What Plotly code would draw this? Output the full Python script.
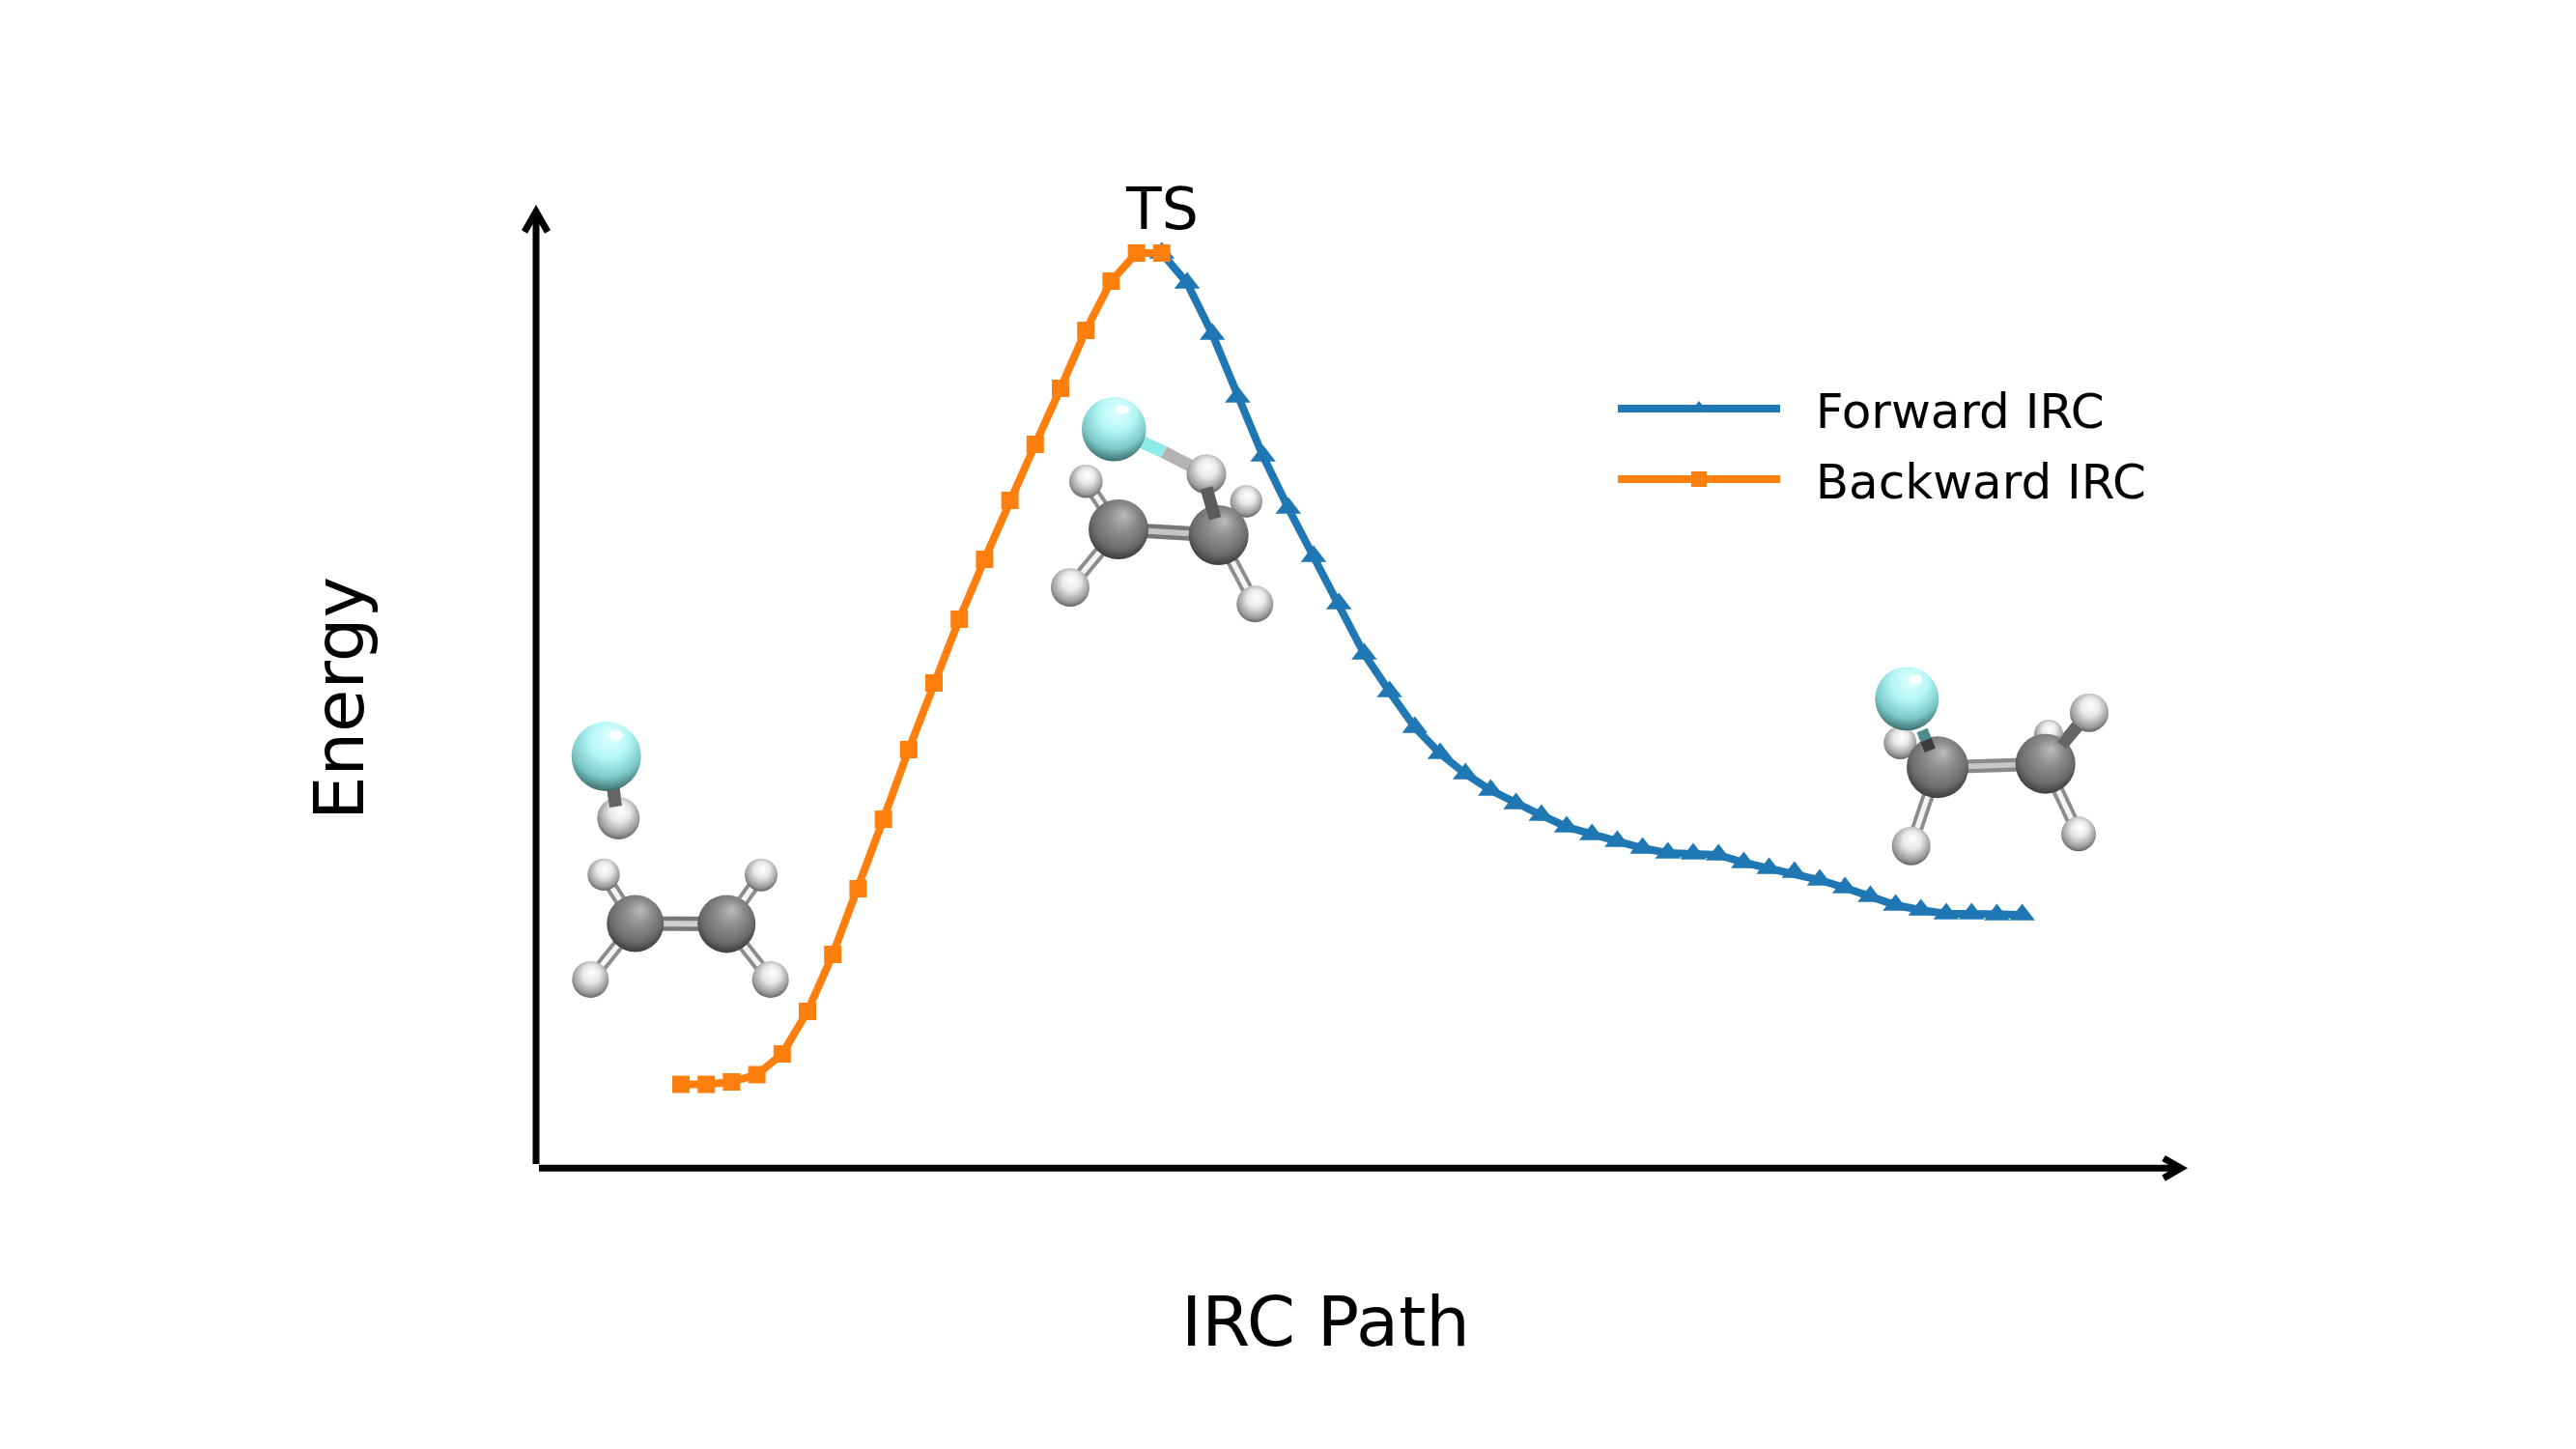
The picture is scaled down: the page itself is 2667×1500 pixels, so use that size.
import base64
import plotly.graph_objects as go

# ---- data (arbitrary energy units) ----
backward_step = list(range(0, 20))
backward_energy = [8.65, 8.65, 8.9, 9.65, 11.8, 16.2, 22.1, 28.9, 36.1, 43.3, 50.2, 56.8,
                   63.0, 69.1, 74.9, 80.7, 86.7, 91.8, 94.7, 94.7]
forward_step = list(range(19, 54))
forward_energy = [94.7, 91.6, 86.3, 79.8, 73.7, 68.3, 63.3, 58.4, 53.2, 49.3, 45.6, 42.9,
                  40.8, 39.1, 37.7, 36.5, 35.3, 34.5, 33.8, 33.1, 32.6, 32.5, 32.4, 31.6,
                  31.0, 30.6, 29.8, 29.0, 28.1, 27.2, 26.7, 26.3, 26.3, 26.2, 26.2]
series_names = ["Forward IRC", "Backward IRC"]
x_title = "IRC Path"
y_title = "Energy"
ts_label = "TS"

# ---- layout constants (pixels of the 2667x1500 canvas) ----
W, H = 2667, 1500
L, R, T, B = 555, 2265, 211, 1209
PW, PH = R - L, B - T
FONT = "DejaVu Sans"
BLUE, ORANGE = "#1f77b4", "#ff7f0e"


def px(x):
    return (x - L) / PW


def py(y):
    return (B - y) / PH


# ---- molecule pictures (the reference has them as rendered images) ----
DEFS = """
<defs>
<radialGradient id="C" cx=".5" cy=".42" r=".6" fx=".6" fy=".25">
<stop offset="0" stop-color="#bcbcbc"/><stop offset=".35" stop-color="#909090"/>
<stop offset=".75" stop-color="#6c6c6c"/><stop offset="1" stop-color="#363636"/></radialGradient>
<radialGradient id="H" cx=".5" cy=".42" r=".6" fx=".55" fy=".3">
<stop offset="0" stop-color="#fff"/><stop offset=".4" stop-color="#e8e8e8"/>
<stop offset=".8" stop-color="#9c9c9c"/><stop offset="1" stop-color="#5a5a5a"/></radialGradient>
<radialGradient id="F" cx=".5" cy=".32" r=".72" fx=".58" fy=".2">
<stop offset="0" stop-color="#e4ffff"/><stop offset=".4" stop-color="#b4f6f6"/>
<stop offset=".72" stop-color="#7cc8c8"/><stop offset=".92" stop-color="#467c7c"/>
<stop offset="1" stop-color="#2a4a4a"/></radialGradient>
</defs>"""


def line(a, b, color, width):
    return (f'<line x1="{a[0]}" y1="{a[1]}" x2="{b[0]}" y2="{b[1]}" '
            f'stroke="{color}" stroke-width="{width}"/>')


def stripe(a, b, w=13, outer="#8c8c8c", inner="#f4f4f4"):
    return line(a, b, outer, w) + line(a, b, inner, w * 0.4)


def atom(a):
    kind, x, y, r = a
    s = f'<circle cx="{x}" cy="{y}" r="{r}" fill="url(#{kind})"/>'
    if kind == "F":
        s += f'<ellipse cx="{x + r * .28}" cy="{y - r * .6}" rx="{r * .2}" ry="{r * .14}" fill="#fff"/>'
    return s


def molecule(box, back, atoms, front=""):
    x0, y0, x1, y1 = box
    svg = (f'<svg xmlns="http://www.w3.org/2000/svg" width="{x1 - x0}" height="{y1 - y0}" '
           f'viewBox="{x0} {y0} {x1 - x0} {y1 - y0}">{DEFS}{back}'
           + "".join(atom(a) for a in atoms) + front + "</svg>")
    src = "data:image/svg+xml;base64," + base64.b64encode(svg.encode()).decode()
    return dict(source=src, xref="paper", yref="paper", x=px(x0), y=py(y0),
                sizex=(x1 - x0) / PW, sizey=(y1 - y0) / PH, sizing="stretch",
                xanchor="left", yanchor="top", layer="below")


C1, C2 = (657.7, 956), (752.3, 956.4)
mol1 = molecule(
    (570, 730, 830, 1050),
    line((635, 815), (638, 840), "#666", 13)
    + stripe(C1, (625, 905.4)) + stripe(C2, (788, 905.7))
    + stripe(C1, (611.3, 1014)) + stripe(C2, (797.7, 1014))
    + stripe(C1, C2, 15, "#777", "#cfcfcf"),
    [("H", 640.3, 847, 22), ("F", 627.7, 782.9, 36),
     ("H", 625, 905.4, 16.7), ("H", 788, 905.7, 17),
     ("H", 611.3, 1014, 19), ("H", 797.7, 1014, 19),
     ("C", 657.7, 956, 29.5), ("C", 752.3, 956.4, 30)],
    line((635, 818), (637.5, 835), "#666", 13),
)

C3, C4 = (1158, 548), (1261.7, 554)
mol2 = molecule(
    (1070, 400, 1340, 650),
    stripe(C3, (1124.3, 498.3)) + stripe(C4, (1290.3, 519))
    + stripe(C3, (1108, 608)) + stripe(C4, (1299.3, 625.3))
    + stripe(C3, C4, 15, "#777", "#c4c4c4")
    + line((1153.3, 444.3), (1205, 468), "#8feaea", 13)
    + line((1205, 468), (1249, 490.7), "#b4b4b4", 13),
    [("F", 1153.3, 444.3, 33.3), ("H", 1124.3, 498.3, 17.3),
     ("H", 1290.3, 519, 16.7), ("H", 1108, 608, 20), ("H", 1299.3, 625.3, 19),
     ("C", 1158, 548, 31), ("C", 1261.7, 554, 31), ("H", 1249, 490.7, 20.5)],
    line((1249, 505), (1258, 536.7), "#5c5c5c", 13),
)

C5, C6 = (2006, 794.3), (2117.7, 790.7)
mol3 = molecule(
    (1930, 680, 2190, 900),
    stripe(C5, (1967.3, 769)) + stripe(C5, (1978.7, 875.7)) + stripe(C6, (2152, 863.3))
    + line(C6, (2163, 737.7), "#666", 13)
    + stripe(C5, C6, 14, "#8a8a8a", "#c8c8c8"),
    [("H", 1967.3, 769, 17), ("H", 2121, 760, 15), ("H", 2163, 737.7, 20),
     ("H", 1978.7, 875.7, 20), ("H", 2152, 863.3, 18),
     ("F", 1974.3, 723.3, 33), ("C", 2006, 794.3, 32), ("C", 2117.7, 790.7, 31)],
    line((1990, 756), (1994, 766), "#4c8c8c", 12) + line((1994, 766), (1998.3, 776.7), "#3c3c3c", 12)
    + line((2135, 771.7), (2150, 751.7), "#666", 12),
)


def arrow_path(points):
    return "M" + " L".join(f"{px(x):.5f},{py(y):.5f}" for x, y in points)


shape_style = dict(type="path", xref="paper", yref="paper",
                   line=dict(color="black", width=7))
shapes = [
    dict(path=arrow_path([(555, 1205), (555, 220)]), **shape_style),
    dict(path=arrow_path([(543, 240), (555, 219), (567, 240)]), **shape_style),
    dict(path=arrow_path([(558, 1209.3), (2258, 1209.3)]), **shape_style),
    dict(path=arrow_path([(2240, 1199), (2258, 1209.3), (2240, 1219.6)]), **shape_style),
]

fig = go.Figure()
fig.add_trace(go.Scatter(
    x=forward_step, y=forward_energy, mode="lines+markers",
    name="\u00a0\u00a0" + series_names[0], legendgroup="forward",
    line=dict(color=BLUE, width=8),
    marker=dict(symbol="triangle-up", size=23, color=BLUE),
))
fig.add_trace(go.Scatter(
    x=backward_step, y=backward_energy, mode="lines+markers",
    name="\u00a0\u00a0" + series_names[1], legendgroup="backward",
    line=dict(color=ORANGE, width=8),
    marker=dict(symbol="square", size=18, color=ORANGE),
))

STEP_PX = 26.2
text_font = dict(size=72, family=FONT, color="black")
fig.update_layout(
    width=W, height=H, autosize=False,
    margin=dict(l=L, r=W - R, t=T, b=H - B, pad=0),
    paper_bgcolor="white", plot_bgcolor="rgba(0,0,0,0)",
    font=dict(family=FONT, color="black", size=50),
    xaxis=dict(range=[(L - 705) / STEP_PX, (R - 705) / STEP_PX], showgrid=False, zeroline=False,
               showline=False, showticklabels=False, ticks=""),
    yaxis=dict(range=[0, PH / 10], showgrid=False, zeroline=False,
               showline=False, showticklabels=False, ticks=""),
    legend=dict(x=px(1670), y=py(384), xanchor="left", yanchor="top",
                bgcolor="rgba(0,0,0,0)", borderwidth=0, itemwidth=168,
                tracegroupgap=5, font=dict(size=50, family=FONT)),
    annotations=[
        dict(x=19, y=(B - 216) / 10, xref="x", yref="y", text=ts_label,
             showarrow=False, xanchor="center", yanchor="middle",
             font=dict(size=60, family=FONT, color="black")),
        dict(x=px(1372), y=py(1368), xref="paper", yref="paper", text=x_title,
             showarrow=False, xanchor="center", yanchor="middle", font=text_font),
        dict(x=px(351), y=py(723), xref="paper", yref="paper", text=y_title, textangle=-90,
             showarrow=False, xanchor="center", yanchor="middle", font=text_font),
    ],
    shapes=shapes,
    images=[mol1, mol2, mol3],
)
fig.write_html("out.html", config={"displayModeBar": False},
               post_script="document.body.style.margin='0';")
